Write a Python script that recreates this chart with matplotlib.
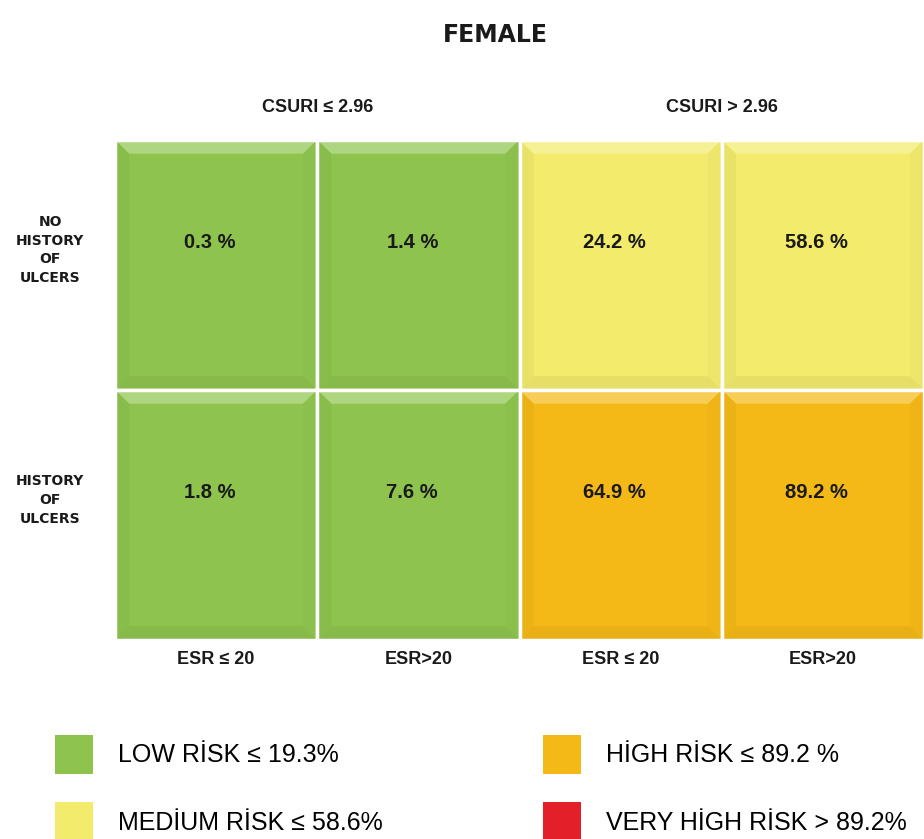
import matplotlib
matplotlib.use("Agg")
import matplotlib.pyplot as plt
import numpy as np
from matplotlib.colors import to_rgb
from matplotlib.patches import Patch, Polygon

TITLE = "FEMALE"
GROUPS = ["CSURI ≤ 2.96", "CSURI > 2.96"]
COLUMNS = ["ESR ≤ 20", "ESR>20", "ESR ≤ 20", "ESR>20"]
ROWS = ["NO\nHISTORY\nOF\nULCERS", "HISTORY\nOF\nULCERS"]
VALUES = [
    [0.3, 1.4, 24.2, 58.6],
    [1.8, 7.6, 64.9, 89.2],
]
RISK_LABELS = ["LOW RİSK ≤ 19.3%", "MEDİUM RİSK ≤ 58.6%", "HİGH RİSK ≤ 89.2 %", "VERY HİGH RİSK > 89.2%"]
RISK_LIMITS = [19.3, 58.6, 89.2]
RISK_COLORS = ["#8ec44e", "#f2eb6c", "#f4b916", "#e3202a"]


def risk_color(v):
    for lim, col in zip(RISK_LIMITS, RISK_COLORS):
        if v <= lim:
            return col
    return RISK_COLORS[-1]


def shade(col, f):
    c = np.array(to_rgb(col))
    return tuple(c + (1 - c) * f) if f > 0 else tuple(c * (1 + f))


fig = plt.figure(figsize=(9.24, 8.39), dpi=100)
ax = fig.add_axes([115 / 924, 1 - 640 / 839, 809 / 924, 500 / 839])
ax.set_xlim(0, 4)
ax.set_ylim(2, 0)
ax.axis("off")

bx, by = 0.07, 0.055
for r, row in enumerate(VALUES):
    for c, v in enumerate(row):
        col = risk_color(v)
        ax.bar(c, 1, bottom=r, width=1, align="edge", color=col, edgecolor="none")
        x0, x1, y0, y1 = c, c + 1, r, r + 1
        bevels = [
            ([(x0, y0), (x1, y0), (x1 - bx, y0 + by), (x0 + bx, y0 + by)], shade(col, 0.28)),
            ([(x0, y0), (x0 + bx, y0 + by), (x0 + bx, y1 - by), (x0, y1)], shade(col, -0.04)),
            ([(x1, y0), (x1 - bx, y0 + by), (x1 - bx, y1 - by), (x1, y1)], shade(col, -0.02)),
            ([(x0, y1), (x0 + bx, y1 - by), (x1 - bx, y1 - by), (x1, y1)], shade(col, -0.05)),
        ]
        for pts, fc in bevels:
            ax.add_patch(Polygon(pts, closed=True, facecolor=fc, edgecolor="none"))
        ax.bar(c, 1, bottom=r, width=1, align="edge", color="none",
               edgecolor="white", linewidth=2.5)
        ax.text(c + 0.47, r + 0.41, f"{v} %", ha="center", va="center",
                fontsize=14.5, fontweight="bold", color="#1a1a1a",
                family="Liberation Sans")

for c, lab in enumerate(COLUMNS):
    ax.text(c + 0.5, 2.08, lab, ha="center", va="center", fontsize=13,
            fontweight="bold", color="#1a1a1a", family="Liberation Sans")
for g, lab in enumerate(GROUPS):
    ax.text(2 * g + 1, -0.13, lab, ha="center", va="center", fontsize=13,
            fontweight="bold", color="#1a1a1a", family="Liberation Sans")
for r, lab in enumerate(ROWS):
    ax.text(-0.32, r + 0.44, lab, ha="center", va="center", fontsize=10,
            fontweight="bold", color="#1a1a1a", linespacing=1.45)

fig.text(495 / 924, 1 - 35 / 839, TITLE, ha="center", va="center",
         fontsize=17, fontweight="bold", color="#1a1a1a")

handles = [Patch(facecolor=c, edgecolor="none") for c in RISK_COLORS]
leg_kw = dict(loc="upper left", frameon=False,
              prop={"family": "Liberation Sans", "size": 18},
              handlelength=1.5, handleheight=2.0, handletextpad=1.0,
              labelspacing=1.15, borderpad=0, borderaxespad=0)
fig.legend(handles[:2], RISK_LABELS[:2], bbox_to_anchor=(55 / 924, 1 - 735 / 839), **leg_kw)
fig.legend(handles[2:], RISK_LABELS[2:], bbox_to_anchor=(543 / 924, 1 - 735 / 839), **leg_kw)

fig.savefig("out.png", dpi=100)
